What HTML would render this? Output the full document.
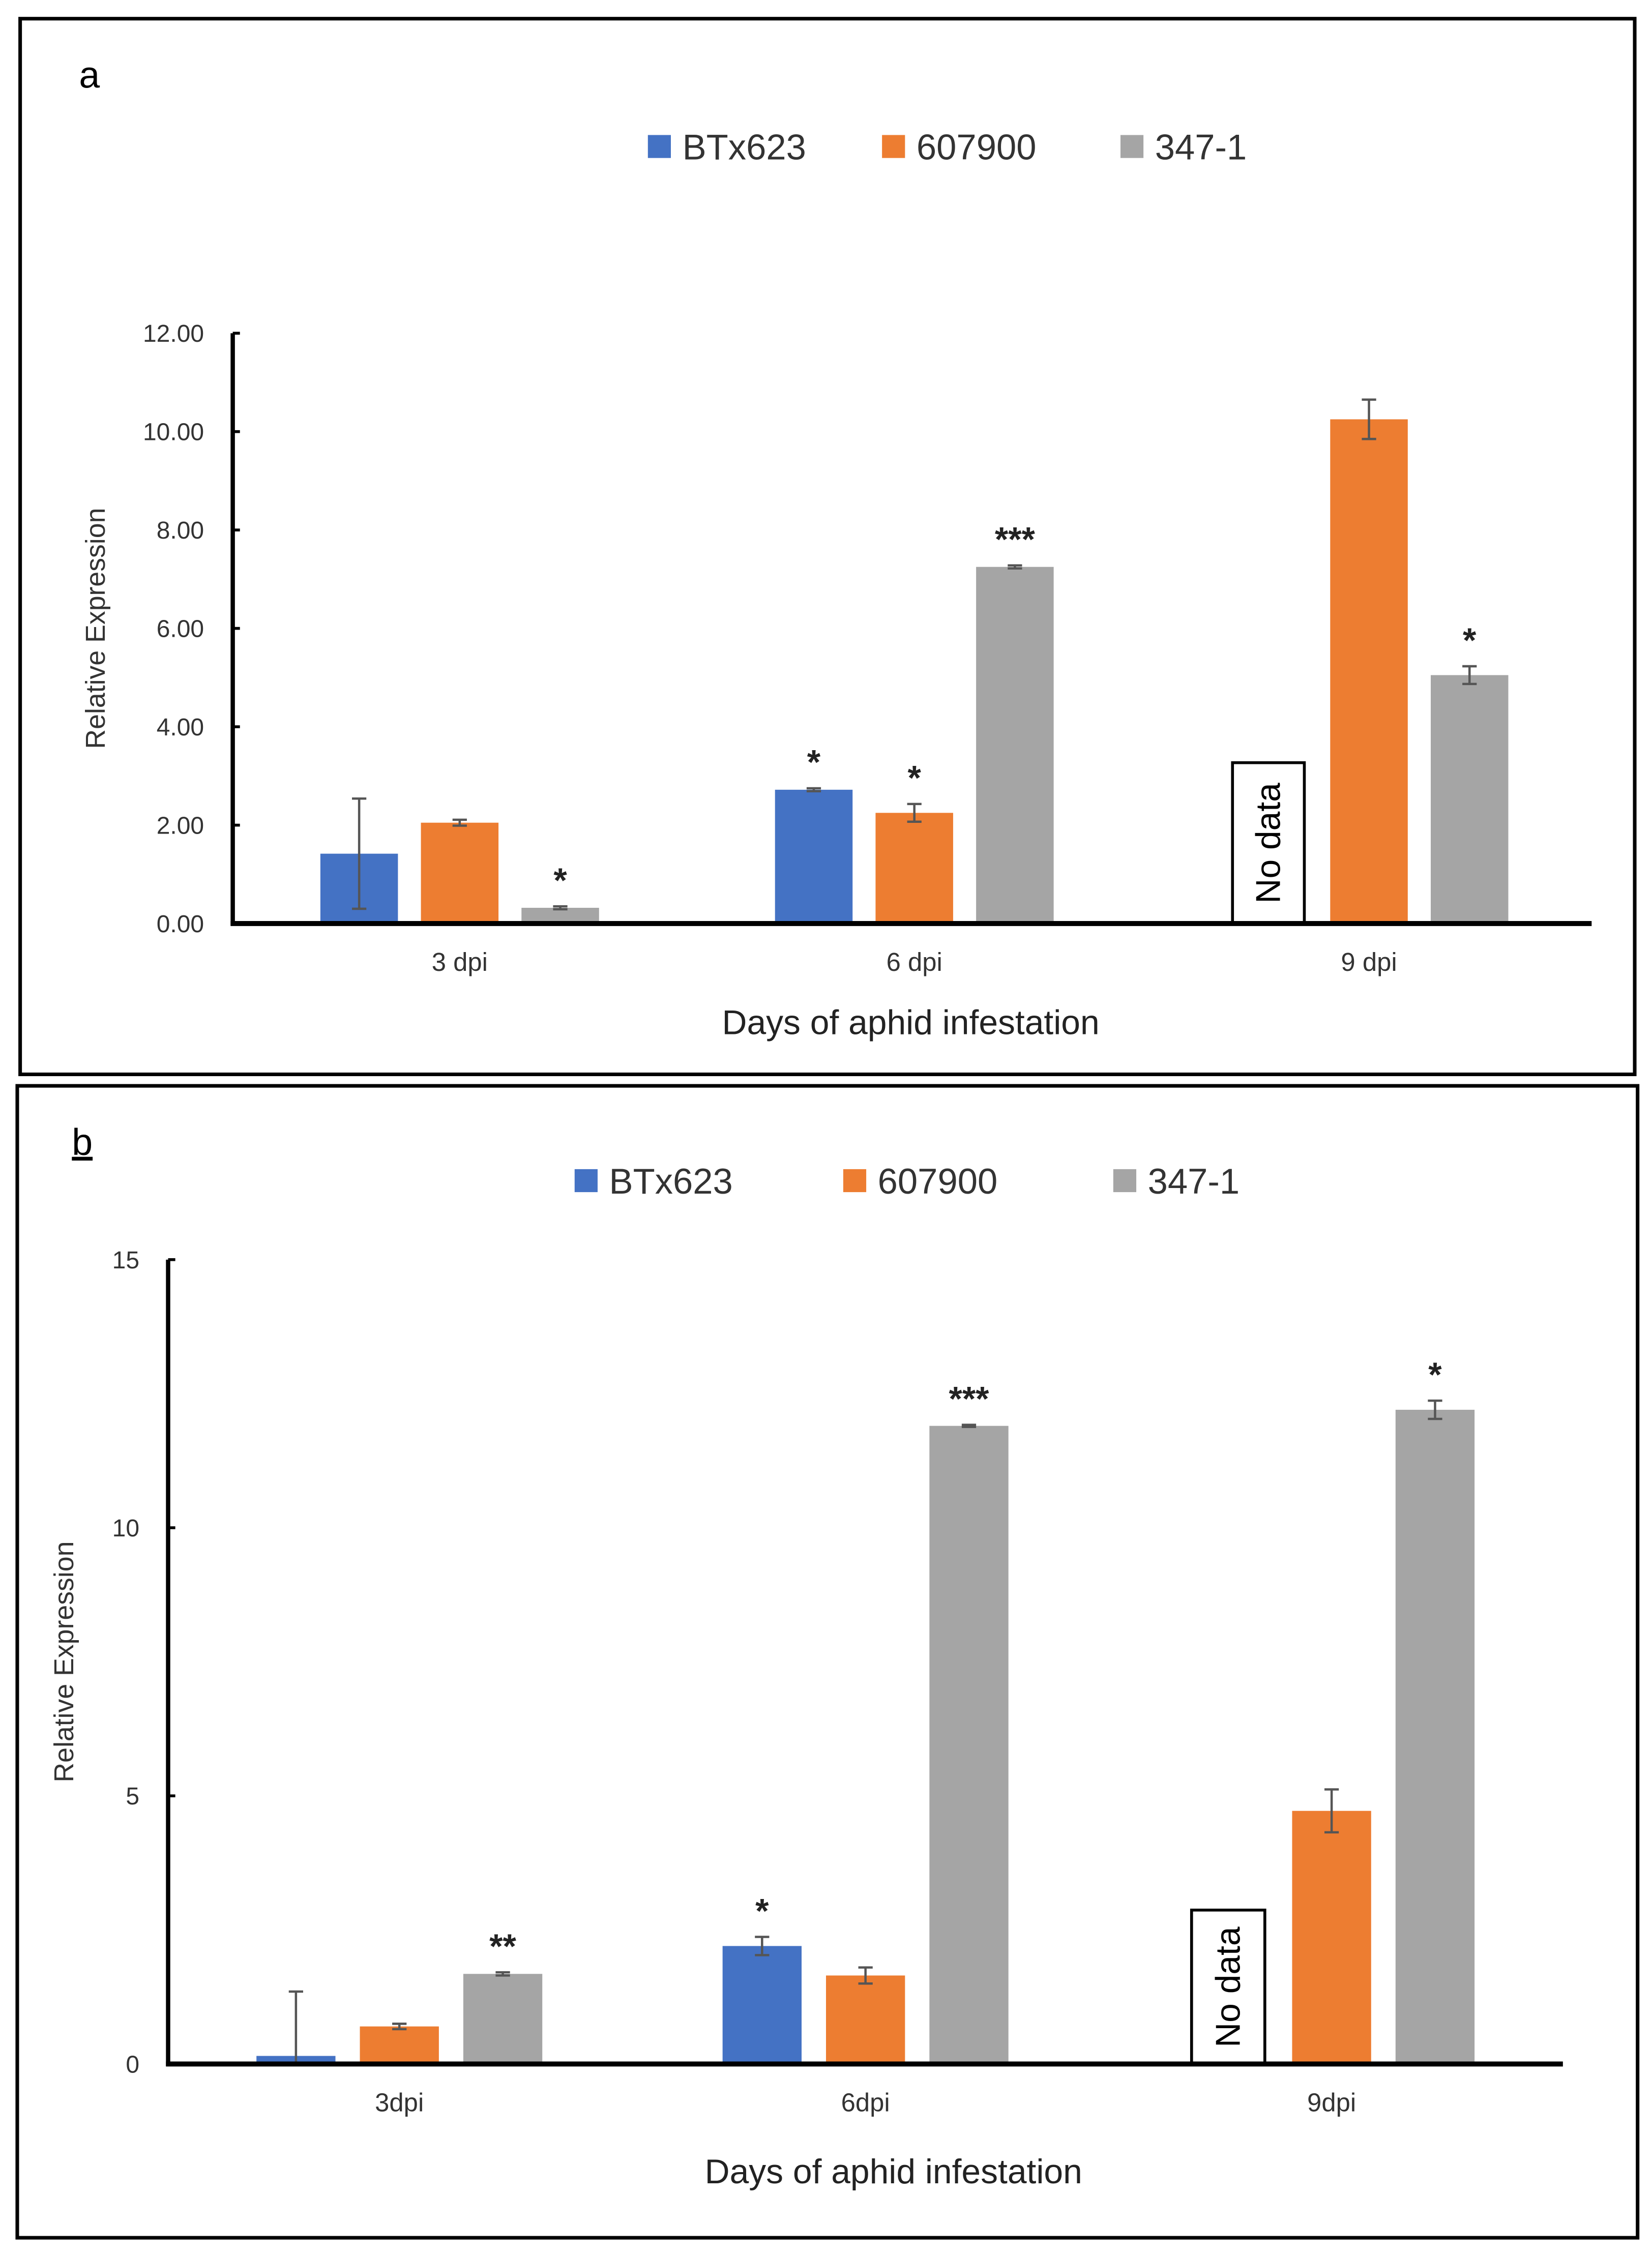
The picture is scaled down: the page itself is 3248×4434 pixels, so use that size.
<!DOCTYPE html>
<html><head><meta charset="utf-8"><style>
html,body{margin:0;padding:0;background:#fff;}
svg{display:block;}
text{font-family:"Liberation Sans",sans-serif;}
</style></head><body>
<svg id="fig" width="3248" height="4434" viewBox="0 0 1150 1570" xmlns="http://www.w3.org/2000/svg">
<rect x="0" y="0" width="1150" height="1570" fill="#fff"/>
<g id="pa"></g>
<g id="pb"></g>
</svg>
<script>
const NS="http://www.w3.org/2000/svg";
// Panel a data
const catsA=["3 dpi","6 dpi","9 dpi"];
const btxA=[1.42,2.72,null];
const btxErrA=[1.12,0.03,null];
const p607A=[2.05,2.25,10.25];
const p607ErrA=[0.06,0.18,0.4];
const p347A=[0.32,7.25,5.05];
const p347ErrA=[0.03,0.03,0.18];
const starsBtxA=["","*",""];
const stars607A=["","*",""];
const stars347A=["*","***","*"];
const ticksA=["0.00","2.00","4.00","6.00","8.00","10.00","12.00"];
const tickValsA=[0,2,4,6,8,10,12];
const noDataA=3.27;
// Panel b data
const catsB=["3dpi","6dpi","9dpi"];
const btxB=[0.15,2.2,null];
const btxErrB=[1.2,0.17,null];
const p607B=[0.7,1.65,4.72];
const p607ErrB=[0.05,0.15,0.4];
const p347B=[1.68,11.9,12.2];
const p347ErrB=[0.03,0.02,0.17];
const starsBtxB=["","*",""];
const stars607B=["","",""];
const stars347B=["**","***","*"];
const ticksB=["0","5","10","15"];
const tickValsB=[0,5,10,15];
const noDataB=2.87;
const seriesNames=["BTx623","607900","347-1"];
const colors=["#4472C4","#ED7D31","#A5A5A5"];

function mk(parent,tag,attrs,txt){const e=document.createElementNS(NS,tag);for(const k in attrs)e.setAttribute(k,attrs[k]);if(txt!==undefined)e.textContent=txt;parent.appendChild(e);return e;}

function panel(g,cfg){
  const y=v=>cfg.y0-(v-cfg.vmin)*(cfg.y0-cfg.yTop)/(cfg.vmax-cfg.vmin);
  const box=mk(g,'rect',{x:cfg.box[0],y:cfg.box[1],width:cfg.box[2],height:cfg.box[3],fill:'none',stroke:'#000','stroke-width':2.5});
  
  
  const lab=mk(g,'text',{x:cfg.label[0],y:cfg.label[1],'font-size':26,'text-decoration':cfg.underline?'underline':'none'},cfg.labelText);
  
  
  for(let i=0;i<3;i++){
    const lg=mk(g,'g',{});
    
    
    mk(lg,'rect',{x:cfg.leg[i],y:cfg.legY-8,width:16,height:16,fill:colors[i]});
    mk(lg,'text',{x:cfg.leg[i]+24,y:cfg.legY+9,'font-size':25,fill:'#333'},seriesNames[i]);
  }
  for(let i=0;i<cfg.tickVals.length;i++){
    const t=mk(g,'text',{x:cfg.axX-20,y:y(cfg.tickVals[i])+6,'font-size':17,'text-anchor':'end',fill:'#333'},cfg.ticks[i]);
    
    
    mk(g,'line',{x1:cfg.axX,x2:cfg.axX+5,y1:y(cfg.tickVals[i]),y2:y(cfg.tickVals[i]),stroke:'#000','stroke-width':2});
  }
  const yt=mk(g,'text',{x:0,y:0,'font-size':19,'text-anchor':'middle',fill:'#333',transform:`translate(${cfg.ytX},${(cfg.y0+cfg.yTop)/2}) rotate(-90)`},'Relative Expression');
  
  
  const series=cfg.s, errs=cfg.e;
  for(let c=0;c<3;c++){
    const cx=cfg.c0+c*cfg.step;
    const xl=mk(g,'text',{x:cx,y:cfg.y0+33,'font-size':18,'text-anchor':'middle',fill:'#333'},cfg.cats[c]);
    
    
    for(let s=0;s<3;s++){
      const bx=cx+(s-1)*(cfg.bw+cfg.gap)-cfg.bw/2;
      const v=series[s][c];
      const mid=bx+cfg.bw/2;
      if(v===null){
        const nd=mk(g,'g',{});
        
        
        mk(nd,'rect',{x:bx+2,y:y(cfg.noData),width:cfg.bw-4,height:cfg.y0-y(cfg.noData),fill:'#fff',stroke:'#000','stroke-width':2});
        mk(nd,'text',{x:0,y:0,'font-size':24,'text-anchor':'middle',transform:`translate(${mid+8},${(y(cfg.noData)+cfg.y0)/2}) rotate(-90)`},'No data');
        continue;
      }
      const b=mk(g,'rect',{x:bx,y:y(v),width:cfg.bw,height:cfg.y0-y(v),fill:colors[s]});
      
      
      const e=errs[s][c];
      const eg=mk(g,'g',{stroke:'#555','stroke-width':1.6});
      
      
      mk(eg,'line',{x1:mid,x2:mid,y1:y(v+e),y2:y(Math.max(v-e,0))});
      mk(eg,'line',{x1:mid-5,x2:mid+5,y1:y(v+e),y2:y(v+e)});
      mk(eg,'line',{x1:mid-5,x2:mid+5,y1:y(Math.max(v-e,0)),y2:y(Math.max(v-e,0))});
      const st=cfg.stars[s][c];
      if(st){
        const sx=mk(g,'text',{x:mid,y:y(v+e)-10,'font-size':24,'font-weight':'bold','text-anchor':'middle',fill:'#222'},st);
        
        
      }
    }
  }
  mk(g,'line',{x1:cfg.axX,x2:cfg.axX,y1:cfg.yTop,y2:cfg.y0+1.5,stroke:'#000','stroke-width':3});
  const xa=mk(g,'line',{x1:cfg.axX-1.5,x2:cfg.axEnd,y1:cfg.y0,y2:cfg.y0,stroke:'#000','stroke-width':3.5});
  
  
  const xt=mk(g,'text',{x:cfg.xtX,y:cfg.xtY,'font-size':24,'text-anchor':'middle',fill:'#222'},'Days of aphid infestation');
  
  
}
panel(document.getElementById('pa'),{box:[14,13,1124,735],label:[55,61],labelText:'a',underline:false,
  leg:[451,614,780],legY:102,vmin:0,vmax:12,y0:643,yTop:232,axX:162,axEnd:1108,
  ticks:ticksA,tickVals:tickValsA,ytX:73,cats:catsA,c0:320,step:316.5,bw:54,gap:16,
  s:[btxA,p607A,p347A],e:[btxErrA,p607ErrA,p347ErrA],stars:[starsBtxA,stars607A,stars347A],
  noData:noDataA,xtX:634,xtY:720});
panel(document.getElementById('pb'),{box:[12,756,1128,802],label:[50,804],labelText:'b',underline:true,
  leg:[400,587,775],legY:822,vmin:0,vmax:15,y0:1437,yTop:877,axX:117,axEnd:1088,
  ticks:ticksB,tickVals:tickValsB,ytX:51,cats:catsB,c0:278,step:324.5,bw:55,gap:17,
  s:[btxB,p607B,p347B],e:[btxErrB,p607ErrB,p347ErrB],stars:[starsBtxB,stars607B,stars347B],
  noData:noDataB,xtX:622,xtY:1520});
</script>
</body></html>
